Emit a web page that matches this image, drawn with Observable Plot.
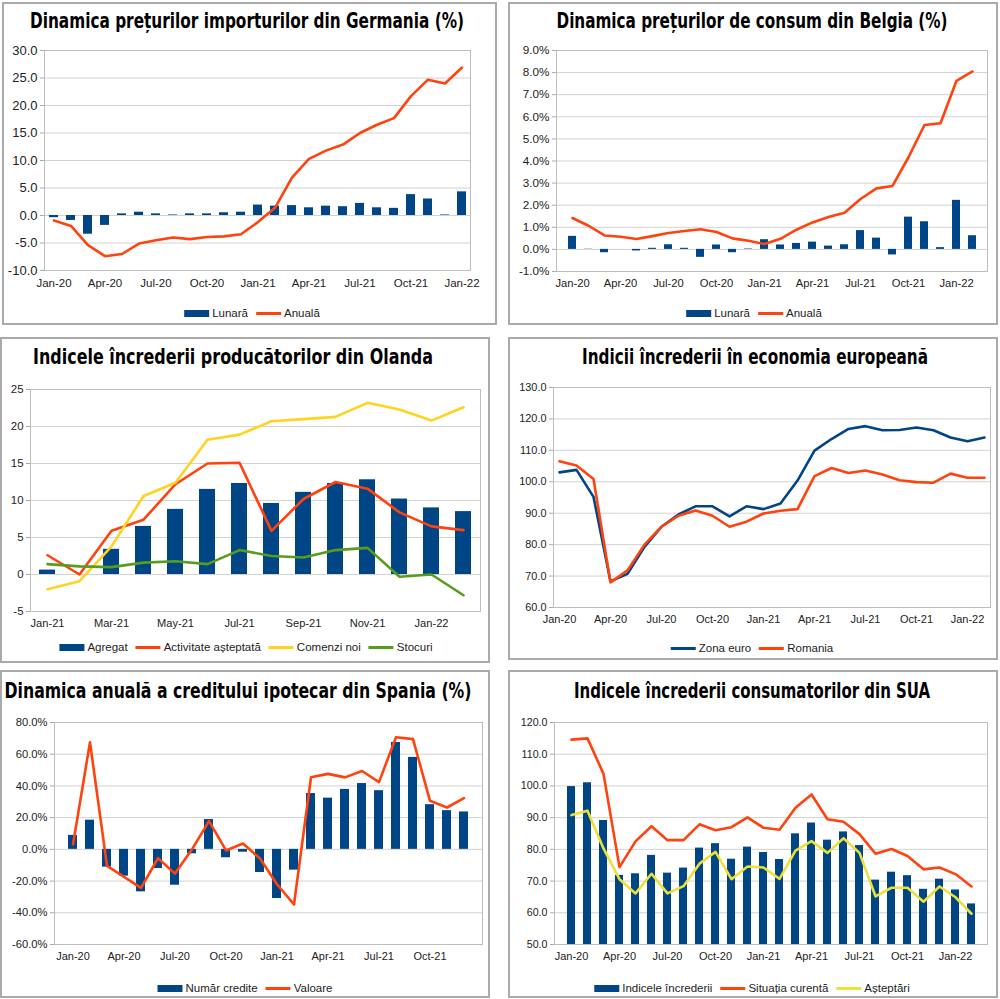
<!DOCTYPE html>
<html><head><meta charset="utf-8">
<script src="https://cdn.jsdelivr.net/npm/d3@7"></script>
<script src="https://cdn.jsdelivr.net/npm/@observablehq/plot@0.6"></script>
<style>
body{margin:0;background:#fff;}
#root{position:relative;width:1000px;height:999px;overflow:hidden;font-family:"Liberation Sans",Arial,sans-serif;background:#fff;}
.box{position:absolute;border:2px solid #aaaaaa;box-sizing:border-box;}
.title{position:absolute;left:0;top:0;white-space:nowrap;font-family:"Liberation Sans Narrow","DejaVu Sans Condensed","Liberation Sans",sans-serif;font-weight:bold;font-size:22px;line-height:1;color:#000;}
.legend{position:absolute;display:flex;align-items:center;white-space:nowrap;font-size:11.5px;color:#222;transform:translate(-50%,-50%);}
.item{display:flex;align-items:center;margin:0 4px;}
.sw-bar{display:inline-block;width:25px;height:7px;margin-right:3px;}
.sw-line{display:inline-block;width:25px;height:3px;margin-right:3px;}
</style></head><body><div id="root"></div><script>
// ---------- DATA ----------
const months = ["Jan-20","Feb-20","Mar-20","Apr-20","May-20","Jun-20","Jul-20","Aug-20","Sep-20","Oct-20","Nov-20","Dec-20","Jan-21","Feb-21","Mar-21","Apr-21","May-21","Jun-21","Jul-21","Aug-21","Sep-21","Oct-21","Nov-21","Dec-21","Jan-22","Feb-22"];
const quarterTicks = ["Jan-20","Apr-20","Jul-20","Oct-20","Jan-21","Apr-21","Jul-21","Oct-21","Jan-22"];
const nlTicks = ["Jan-21","Mar-21","May-21","Jul-21","Sep-21","Nov-21","Jan-22"];
const esTicks = ["Jan-20","Apr-20","Jul-20","Oct-20","Jan-21","Apr-21","Jul-21","Oct-21"];

// Germany import prices (Jan-20 .. Jan-22)
const deMonths = months.slice(0, 25);
const deLunara = [-0.4,-0.9,-3.4,-1.8,0.3,0.6,0.3,0.1,0.3,0.3,0.5,0.6,1.9,1.7,1.8,1.4,1.7,1.6,2.2,1.4,1.3,3.8,3.0,0.1,4.3];
const deAnuala = [-0.9,-1.9,-5.4,-7.4,-7.0,-5.1,-4.5,-4.0,-4.3,-3.9,-3.8,-3.4,-1.2,1.4,6.9,10.3,11.8,12.9,15.0,16.5,17.7,21.7,24.7,24.0,26.9];

// Belgium CPI (Jan-20 .. Feb-22)
const beMonths = months.slice(0, 26);
const beLunara = [0.59,0.01,-0.15,0.0,-0.07,0.05,0.21,0.05,-0.36,0.2,-0.15,0.02,0.44,0.2,0.27,0.33,0.15,0.21,0.85,0.51,-0.25,1.46,1.25,0.08,2.22,0.62];
const beAnuala = [1.42,1.07,0.63,0.57,0.47,0.6,0.74,0.83,0.91,0.79,0.5,0.39,0.24,0.48,0.89,1.22,1.47,1.66,2.28,2.76,2.87,4.17,5.63,5.71,7.63,8.05];

// Netherlands producer confidence (Jan-21 .. Feb-22)
const nlMonths = months.slice(12, 26);
const nlAgregat = [0.6,0,3.4,6.5,8.8,11.5,12.3,9.6,11.1,12.3,12.8,10.2,9.0,8.5];
const nlActivitate = [2.6,0.0,5.9,7.4,12.2,15.0,15.1,5.9,10.2,12.5,11.6,8.4,6.5,6.0];
const nlComenzi = [-2.0,-0.9,3.8,10.6,12.4,18.2,18.9,20.7,21.0,21.3,23.2,22.3,20.8,22.6];
const nlStocuri = [1.4,1.1,1.0,1.6,1.8,1.4,3.3,2.5,2.3,3.3,3.6,-0.3,0.0,-2.8];

// Economic sentiment (Jan-20 .. Feb-22)
const euMonths = months.slice(0, 26);
const euZona = [103.0,103.8,95.2,68.3,70.7,79.3,85.7,89.6,92.2,92.2,89.0,92.2,91.3,93.1,100.4,109.9,113.6,116.8,117.7,116.4,116.5,117.3,116.4,114.1,112.9,114.1];
const euRomania = [106.5,105.2,100.9,68.0,71.8,80.0,85.7,89.2,90.9,89.2,85.7,87.3,89.9,90.8,91.3,101.8,104.4,102.8,103.6,102.3,100.5,99.9,99.7,102.6,101.3,101.3];

// Spain mortgages (Jan-20 .. Dec-21)
const esMonths = months.slice(0, 24);
const esNumar = [8.8,18.4,-11.2,-16.9,-26.8,-12.1,-22.6,-2.8,18.8,-5.3,-1.8,-14.6,-31.0,-13.1,35.2,32.3,37.8,41.5,37.0,67.4,58.0,28.2,24.4,23.6];
const esValoare = [3.1,67.5,-10.4,-17.3,-24.3,-5.6,-15.3,0.0,17.8,-0.7,3.7,-5.8,-22.0,-34.8,45.5,47.6,45.4,49.4,42.4,70.7,69.5,30.6,26.4,32.3];

// US consumer confidence (Jan-20 .. Feb-22)
const usMonths = months.slice(0, 26);
const usIndice = [99.8,101.0,89.1,71.8,72.3,78.1,72.5,74.1,80.4,81.8,76.9,80.7,79.0,76.8,84.9,88.3,82.9,85.5,81.2,70.3,72.8,71.7,67.4,70.6,67.2,62.8];
const usCurenta = [114.6,115.0,103.8,74.4,82.5,87.3,82.9,82.9,87.9,86.0,87.0,90.1,86.8,86.2,93.1,97.3,89.5,88.7,84.8,78.6,80.1,77.9,73.7,74.3,72.2,68.3];
const usAsteptari = [90.8,92.2,80.3,70.6,66.1,72.3,66.1,68.4,75.5,79.2,70.6,74.6,74.3,70.7,79.6,82.6,78.9,83.5,78.9,65.2,67.9,67.9,63.5,68.3,64.9,59.7];

const titles = [
  "Dinamica prețurilor importurilor din Germania (%)",
  "Dinamica prețurilor de consum din Belgia (%)",
  "Indicele încrederii producătorilor din Olanda",
  "Indicii încrederii în economia europeană",
  "Dinamica anuală a creditului ipotecar din Spania (%)",
  "Indicele încrederii consumatorilor din SUA"
];
const legendNames = {
  de: ["Lunară","Anuală"],
  nl: ["Agregat","Activitate așteptată","Comenzi noi","Stocuri"],
  eu: ["Zona euro","Romania"],
  es: ["Număr credite","Valoare"],
  us: ["Indicele încrederii","Situația curentă","Așteptări"]
};

// ---------- STYLE ----------
const BLUE = "#004586", RED = "#ff420e", YELLOW = "#ffd320", GREEN = "#579d1c", YELLOW2 = "#ece03a";
const root = document.getElementById("root");
const zip = (cats, ...series) => cats.map((m, i) => { const o = {m}; series.forEach((s, k) => o["v" + k] = s[i]); return o; });
const f1 = d => d.toFixed(1);
const fp = d => d.toFixed(1) + "%";

function bandX(domain, ticks) {
  return {type: "band", domain, paddingInner: 0.5, paddingOuter: 0.25, ticks, tickSize: 0, tickPadding: 8, label: null};
}
function lineM(data, key, color) {
  return Plot.line(data, {x: "m", y: key, stroke: color, strokeWidth: 2.6, strokeLinejoin: "round", strokeLinecap: "round"});
}

function addPanel(p) {
  const [l, t, r, b] = p.box;
  const [pl, pt, pr, pb] = p.plot;
  const box = document.createElement("div");
  box.className = "box";
  Object.assign(box.style, {left: l + "px", top: t + "px", width: (r - l) + "px", height: (b - t) + "px"});
  root.appendChild(box);
  const yTicks = d3.range(p.y[0], p.y[1] + p.y[2] / 2, p.y[2]);
  const svg = Plot.plot({
    width: r - l, height: b - t,
    marginLeft: pl - l, marginTop: pt - t, marginRight: r - pr, marginBottom: b - pb,
    style: {fontFamily: '"Liberation Sans", Arial, sans-serif', fontSize: "12px", color: "#222", background: "transparent", overflow: "visible"},
    x: p.x,
    y: {domain: [p.y[0], p.y[1]], ticks: yTicks, tickFormat: p.yFormat, tickSize: 4, tickPadding: 3, label: null},
    marks: [
      Plot.ruleY(yTicks, {stroke: "#d2d2d2", strokeWidth: 1}),
      ...p.marks,
      Plot.frame({stroke: "#bdbdbd"})
    ]
  });
  Object.assign(svg.style, {position: "absolute", left: l + "px", top: t + "px"});
  svg.querySelectorAll('g[aria-label^="y-axis"] text').forEach(e => { e.style.fontSize = p.yFs + "px"; e.setAttribute("fill", "#222"); });
  svg.querySelectorAll('g[aria-label^="x-axis"] text').forEach(e => { e.style.fontSize = p.xFs + "px"; e.setAttribute("fill", "#222"); });
  svg.querySelectorAll('g[aria-label^="y-axis"] line, g[aria-label^="y-axis"] path').forEach(e => e.setAttribute("stroke", "#aaaaaa"));
  root.appendChild(svg);

  // title
  const d = document.createElement("div");
  d.className = "title";
  d.textContent = p.title;
  root.appendChild(d);
  const natural = d.getBoundingClientRect().width;
  const k = p.titleW / natural;
  d.style.left = p.titleC[0] + "px";
  d.style.top = p.titleC[1] + "px";
  d.style.transform = `translate(-50%,-50%) scaleX(${k})`;

  // legend
  const lg = document.createElement("div");
  lg.className = "legend";
  lg.style.left = p.legendC[0] + "px";
  lg.style.top = p.legendC[1] + "px";
  p.legend.forEach(it => {
    const item = document.createElement("span"); item.className = "item";
    const sw = document.createElement("span"); sw.className = it.type === "bar" ? "sw-bar" : "sw-line";
    sw.style.background = it.color;
    const tx = document.createElement("span"); tx.textContent = it.label;
    item.appendChild(sw); item.appendChild(tx); lg.appendChild(item);
  });
  root.appendChild(lg);
}

// ---------- PANELS ----------
const deData = zip(deMonths, deLunara, deAnuala);
addPanel({
  box: [2, 2, 497, 325], plot: [44, 50, 470, 270], y: [-10, 30, 5], yFormat: f1, yFs: 13, xFs: 11.5,
  x: bandX(deMonths, quarterTicks),
  marks: [Plot.barY(deData, {x: "m", y: "v0", fill: BLUE}), lineM(deData, "v1", RED)],
  title: titles[0], titleC: [247, 21], titleW: 434,
  legend: [{label: legendNames.de[0], color: BLUE, type: "bar"}, {label: legendNames.de[1], color: RED, type: "line"}],
  legendC: [252, 313]
});

const beData = zip(beMonths, beLunara, beAnuala);
addPanel({
  box: [508, 2, 998, 325], plot: [556, 50, 987, 271], y: [-1, 9, 1], yFormat: fp, yFs: 11.7, xFs: 11.2,
  x: bandX(beMonths, quarterTicks),
  marks: [Plot.barY(beData, {x: "m", y: "v0", fill: BLUE}), lineM(beData, "v1", RED)],
  title: titles[1], titleC: [752, 21], titleW: 391,
  legend: [{label: legendNames.de[0], color: BLUE, type: "bar"}, {label: legendNames.de[1], color: RED, type: "line"}],
  legendC: [754, 313]
});

const nlData = zip(nlMonths, nlAgregat, nlActivitate, nlComenzi, nlStocuri);
addPanel({
  box: [0, 337, 490, 663], plot: [30, 389, 480, 611], y: [-5, 25, 5], yFormat: d => String(d), yFs: 11.4, xFs: 11.1,
  x: bandX(nlMonths, nlTicks),
  marks: [Plot.barY(nlData, {x: "m", y: "v0", fill: BLUE}), lineM(nlData, "v1", RED), lineM(nlData, "v2", YELLOW), lineM(nlData, "v3", GREEN)],
  title: titles[2], titleC: [233, 357], titleW: 400,
  legend: [{label: legendNames.nl[0], color: BLUE, type: "bar"}, {label: legendNames.nl[1], color: RED, type: "line"},
           {label: legendNames.nl[2], color: YELLOW, type: "line"}, {label: legendNames.nl[3], color: GREEN, type: "line"}],
  legendC: [246, 647]
});

const euData = zip(euMonths, euZona, euRomania);
addPanel({
  box: [508, 337, 998, 660], plot: [553, 387, 990, 607], y: [60, 130, 10], yFormat: f1, yFs: 10.9, xFs: 11,
  x: {type: "point", domain: euMonths, padding: 0, ticks: quarterTicks, tickSize: 0, tickPadding: 8, label: null},
  marks: [lineM(euData, "v0", BLUE), lineM(euData, "v1", RED)],
  title: titles[3], titleC: [755, 357], titleW: 346,
  legend: [{label: legendNames.eu[0], color: BLUE, type: "line"}, {label: legendNames.eu[1], color: RED, type: "line"}],
  legendC: [752, 648]
});

const esData = zip(esMonths, esNumar, esValoare);
addPanel({
  box: [0, 670, 490, 998], plot: [54, 722, 482, 944], y: [-60, 80, 20], yFormat: fp, yFs: 11.2, xFs: 11,
  x: bandX(esMonths, esTicks),
  marks: [Plot.barY(esData, {x: "m", y: "v0", fill: BLUE}), lineM(esData, "v1", RED)],
  title: titles[4], titleC: [238, 691], titleW: 467,
  legend: [{label: legendNames.es[0], color: BLUE, type: "bar"}, {label: legendNames.es[1], color: RED, type: "line"}],
  legendC: [245, 988]
});

const usData = zip(usMonths, usIndice, usCurenta, usAsteptari);
addPanel({
  box: [508, 670, 998, 998], plot: [554, 722, 987, 944], y: [50, 120, 10], yFormat: f1, yFs: 10.7, xFs: 11,
  x: bandX(usMonths, quarterTicks),
  marks: [Plot.barY(usData, {x: "m", y1: 50, y2: "v0", fill: BLUE}), lineM(usData, "v1", RED), lineM(usData, "v2", YELLOW2)],
  title: titles[5], titleC: [752, 691], titleW: 356,
  legend: [{label: legendNames.us[0], color: BLUE, type: "bar"}, {label: legendNames.us[1], color: RED, type: "line"},
           {label: legendNames.us[2], color: YELLOW2, type: "line"}],
  legendC: [752, 988]
});
</script></body></html>
